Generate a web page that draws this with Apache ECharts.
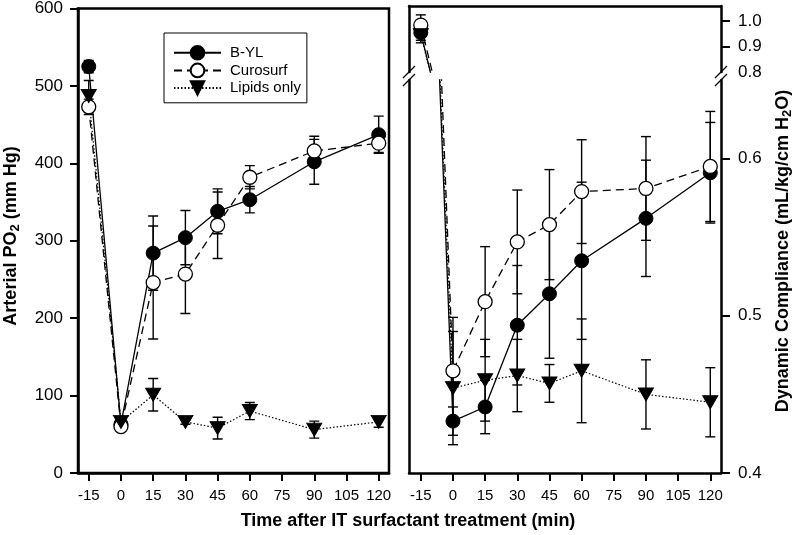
<!DOCTYPE html>
<html>
<head>
<meta charset="utf-8">
<script src="https://cdn.jsdelivr.net/npm/echarts@6/dist/echarts.min.js"></script>
<style>
html,body{margin:0;padding:0;background:#fff;}
#chart{width:796px;height:535px;}
</style>
</head>
<body>
<div id="chart"></div>
<script>
// ---- data ----
const timePoints = [-15, 0, 15, 30, 45, 60, 90, 120];
const xTicks = [-15, 0, 15, 30, 45, 60, 75, 90, 105, 120];
const po2Ticks = [0, 100, 200, 300, 400, 500, 600];
const cdynLowTicks = [0.4, 0.5, 0.6];
const cdynHighTicks = [0.8, 0.9, 1.0];
const seriesNames = ['B-YL', 'Curosurf', 'Lipids only'];

const po2BYL = [525, 63, 284, 304, 338, 353, 402, 437];
const po2BYLErr = [8, 8, 48, 35, 29, 17, 29, 24];
const po2Curo = [473, 60, 246, 257, 320, 382, 416, 426];
const po2CuroErr = [10, 6, 73, 51, 43, 15, 19, 12];
const po2Lip = [487, 66, 101, 66, 58, 80, 56, 66];
const po2LipErr = [20, 6, 21, 3, 14, 11, 11, 7];

const cdynBYL = [0.955, 0.433, 0.442, 0.494, 0.514, 0.535, 0.562, 0.591];
const cdynBYLErr = [0.04, 0.009, 0.017, 0.038, 0.041, 0.05, 0.037, 0.032];
const cdynCuro = [0.985, 0.465, 0.509, 0.547, 0.558, 0.579, 0.581, 0.595];
const cdynCuroErr = [0.04, 0.034, 0.035, 0.033, 0.035, 0.033, 0.033, 0.035];
const cdynLip = [0.945, 0.454, 0.459, 0.462, 0.457, 0.465, 0.450, 0.445];
const cdynLipErr = [0.02, 0.036, 0.026, 0.023, 0.012, 0.033, 0.022, 0.022];

// ---- helpers ----
const FONT = 'Liberation Sans, Arial, sans-serif';
const pairs = (vals) => timePoints.map((t, i) => [t, vals[i]]);
const triples = (vals, errs, keep) => timePoints.map((t, i) => [t, vals[i], errs[i]]).filter(d => keep(d[0]));

const styles = [
  { symbol: 'circle', symbolSize: 14, symbolRotate: 0, itemStyle: { color: '#000', borderColor: '#000', borderWidth: 1 }, lineStyle: { color: '#000', width: 1.3, type: 'solid' } },
  { symbol: 'circle', symbolSize: 14, symbolRotate: 0, itemStyle: { color: '#fff', borderColor: '#000', borderWidth: 1.3 }, lineStyle: { color: '#000', width: 1.3, type: [8, 5] } },
  { symbol: 'triangle', symbolSize: [15, 13], symbolRotate: 180, itemStyle: { color: '#000', borderColor: '#000', borderWidth: 1 }, lineStyle: { color: '#000', width: 1.2, type: [1.5, 2] } }
];

function lineSeries(idx, vals, xi, yi) {
  const s = styles[idx];
  return {
    type: 'line', name: seriesNames[idx], xAxisIndex: xi, yAxisIndex: yi,
    data: pairs(vals), symbol: s.symbol, symbolSize: s.symbolSize, symbolRotate: s.symbolRotate,
    itemStyle: s.itemStyle, lineStyle: s.lineStyle, clip: true, z: 3, animation: false,
    showAllSymbol: true
  };
}

function errRender(params, api) {
  const x = api.value(0), v = api.value(1), e = api.value(2);
  const p = api.coord([x, v + e]);
  const q = api.coord([x, v - e]);
  const w = 5;
  const st = { stroke: '#000', lineWidth: 1.4 };
  return {
    type: 'group', children: [
      { type: 'line', shape: { x1: p[0], y1: p[1], x2: q[0], y2: q[1] }, style: st },
      { type: 'line', shape: { x1: p[0] - w, y1: p[1], x2: p[0] + w, y2: p[1] }, style: st },
      { type: 'line', shape: { x1: q[0] - w, y1: q[1], x2: q[0] + w, y2: q[1] }, style: st }
    ]
  };
}

function errSeries(vals, errs, xi, yi, keep) {
  return {
    type: 'custom', name: 'err', xAxisIndex: xi, yAxisIndex: yi,
    data: triples(vals, errs, keep), encode: { x: 0, y: 1 },
    renderItem: errRender, z: 2, clip: true, silent: true, animation: false
  };
}

const axisLineStyle = { color: '#000', width: 2.5 };
const tickStyle = { color: '#000', width: 2 };
const labelStyle = { color: '#000', fontFamily: FONT };

function bareAxis(extra) {
  return Object.assign({
    type: 'value', axisLine: { show: true, onZero: false, lineStyle: axisLineStyle },
    axisTick: { show: false }, axisLabel: { show: false }, splitLine: { show: false }
  }, extra);
}

const all = () => true;
const preOnly = (t) => t < 0;
const postOnly = (t) => t >= 0;

const option = {
  backgroundColor: '#fff',
  animation: false,
  grid: [
    { left: 78, top: 6, width: 311, height: 467, show: true, borderColor: '#000', borderWidth: 2.5 },
    { left: 409, top: 6, width: 312, height: 66 },
    { left: 409, top: 80, width: 312, height: 393 }
  ],
  xAxis: [
    {
      type: 'value', gridIndex: 0, min: -20, max: 124.8, position: 'bottom',
      axisLine: { show: true, onZero: false, lineStyle: axisLineStyle },
      axisTick: { show: true, length: 8, lineStyle: tickStyle, customValues: xTicks },
      axisLabel: Object.assign({ fontSize: 15, margin: 15, customValues: xTicks }, labelStyle),
      splitLine: { show: false }
    },
    bareAxis({ gridIndex: 1, min: -20.5, max: 125, position: 'top' }),
    {
      type: 'value', gridIndex: 2, min: -20.5, max: 125, position: 'bottom',
      axisLine: { show: true, onZero: false, lineStyle: axisLineStyle },
      axisTick: { show: true, length: 8, lineStyle: tickStyle, customValues: xTicks },
      axisLabel: Object.assign({ fontSize: 15, margin: 15, customValues: xTicks }, labelStyle),
      splitLine: { show: false }
    }
  ],
  yAxis: [
    {
      type: 'value', gridIndex: 0, min: 0, max: 600, position: 'left',
      axisLine: { show: true, onZero: false, lineStyle: axisLineStyle },
      axisTick: { show: true, length: 8, lineStyle: tickStyle, customValues: po2Ticks },
      axisLabel: Object.assign({ fontSize: 17, margin: 15, customValues: po2Ticks }, labelStyle),
      splitLine: { show: false }
    },
    {
      type: 'value', gridIndex: 1, min: 0.8, max: 1.06, position: 'right',
      axisLine: { show: true, onZero: false, lineStyle: axisLineStyle },
      axisTick: { show: true, length: 9, lineStyle: tickStyle, customValues: [0.9, 1.0] },
      axisLabel: Object.assign({ fontSize: 17, margin: 17, customValues: cdynHighTicks, formatter: v => v.toFixed(1) }, labelStyle),
      splitLine: { show: false }
    },
    bareAxis({ gridIndex: 1, min: 0.8, max: 1.06, position: 'left' }),
    {
      type: 'value', gridIndex: 2, min: 0.4, max: 0.65, position: 'right',
      axisLine: { show: true, onZero: false, lineStyle: axisLineStyle },
      axisTick: { show: true, length: 9, lineStyle: tickStyle, customValues: cdynLowTicks },
      axisLabel: Object.assign({ fontSize: 17, margin: 17, customValues: cdynLowTicks, formatter: v => v.toFixed(1) }, labelStyle),
      splitLine: { show: false }
    },
    bareAxis({ gridIndex: 2, min: 0.4, max: 0.65, position: 'left' })
  ],
  legend: {
    data: seriesNames, orient: 'vertical', left: 164, top: 33,
    backgroundColor: '#fff', borderColor: '#000', borderWidth: 1,
    padding: [12, 6, 7, 9], itemGap: 2, itemWidth: 47, itemHeight: 17,
    textStyle: { fontSize: 15, color: '#000', fontFamily: FONT, padding: [0, 0, 0, 4] },
    selectedMode: false
  },
  series: [
    errSeries(po2BYL, po2BYLErr, 0, 0, all),
    errSeries(po2Curo, po2CuroErr, 0, 0, all),
    errSeries(po2Lip, po2LipErr, 0, 0, all),
    lineSeries(0, po2BYL, 0, 0),
    lineSeries(1, po2Curo, 0, 0),
    lineSeries(2, po2Lip, 0, 0),

    errSeries(cdynBYL, cdynBYLErr, 1, 1, preOnly),
    errSeries(cdynCuro, cdynCuroErr, 1, 1, preOnly),
    errSeries(cdynLip, cdynLipErr, 1, 1, preOnly),
    lineSeries(0, cdynBYL, 1, 1),
    lineSeries(1, cdynCuro, 1, 1),
    lineSeries(2, cdynLip, 1, 1),

    errSeries(cdynBYL, cdynBYLErr, 2, 3, postOnly),
    errSeries(cdynCuro, cdynCuroErr, 2, 3, postOnly),
    errSeries(cdynLip, cdynLipErr, 2, 3, postOnly),
    lineSeries(0, cdynBYL, 2, 3),
    lineSeries(1, cdynCuro, 2, 3),
    lineSeries(2, cdynLip, 2, 3)
  ],
  graphic: [
    {
      type: 'text', x: 11, y: 236, rotation: Math.PI / 2,
      style: {
        text: '{b|Arterial PO}{s|2}{b| (mm Hg)}', align: 'center', verticalAlign: 'middle',
        rich: {
          b: { fontSize: 18, fontWeight: 'bold', fontFamily: FONT, fill: '#000', lineHeight: 22 },
          s: { fontSize: 13, fontWeight: 'bold', fontFamily: FONT, fill: '#000', padding: [9, 0, 0, 0] }
        }
      }
    },
    {
      type: 'text', x: 783, y: 251, rotation: Math.PI / 2,
      style: {
        text: '{b|Dynamic Compliance (mL/kg/cm H}{s|2}{b|O)}', align: 'center', verticalAlign: 'middle',
        rich: {
          b: { fontSize: 18, fontWeight: 'bold', fontFamily: FONT, fill: '#000', lineHeight: 22 },
          s: { fontSize: 13, fontWeight: 'bold', fontFamily: FONT, fill: '#000', padding: [9, 0, 0, 0] }
        }
      }
    },
    {
      type: 'text', x: 408, y: 521,
      style: { text: 'Time after IT surfactant treatment (min)', align: 'center', verticalAlign: 'middle',
        fontSize: 18, fontWeight: 'bold', fontFamily: FONT, fill: '#000' }
    },
    // axis-break marks
    { type: 'line', shape: { x1: 403, y1: 78, x2: 415, y2: 66 }, style: { stroke: '#000', lineWidth: 1.2 } },
    { type: 'line', shape: { x1: 403, y1: 86, x2: 415, y2: 74 }, style: { stroke: '#000', lineWidth: 1.2 } },
    { type: 'line', shape: { x1: 715, y1: 78, x2: 727, y2: 66 }, style: { stroke: '#000', lineWidth: 1.2 } },
    { type: 'line', shape: { x1: 715, y1: 86, x2: 727, y2: 74 }, style: { stroke: '#000', lineWidth: 1.2 } }
  ]
};

const chart = echarts.init(document.getElementById('chart'), null, { renderer: 'canvas' });
chart.setOption(option);
</script>
</body>
</html>
